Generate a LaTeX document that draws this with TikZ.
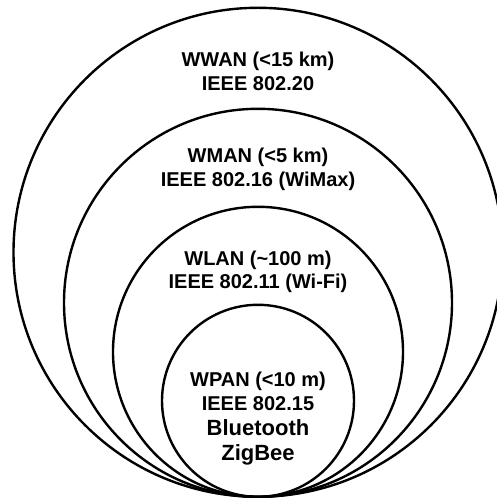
\documentclass[tikz,border=0pt]{standalone}
\usepackage{fontspec}
\setmainfont{Liberation Sans}
\usetikzlibrary{positioning}
\tikzset{
    x=1pt, y=1pt,
    zone/.style={
        circle,
        draw,
        line width=2.4pt,
        inner sep=0pt,
        outer sep=0pt,
        anchor=south
    },
    zone label/.style={
        align=center,
        inner sep=0pt,
        font=\fontsize{20}{23.5}\selectfont\bfseries
    },
    tech label/.style={
        align=center,
        inner sep=0pt,
        font=\fontsize{22}{25.5}\selectfont\bfseries
    }
}

\begin{document}
\begin{tikzpicture}
                \useasboundingbox (0,0) rectangle (496,498);
                \coordinate (touch) at (258,1.2);

                % nested ranges, all touching at the bottom
                \node[zone, minimum size=489pt] (wwan) at (touch) {};
                \node[zone, minimum size=388pt] (wman) at (touch) {};
                \node[zone, minimum size=290pt] (wlan) at (touch) {};
                \node[zone, minimum size=192pt] (wpan) at (touch) {};

                \node[zone label, yshift=-63.5pt] (wwantxt) at (wwan.north) {WWAN (<15 km)\\IEEE 802.20};
                \node[zone label, yshift=-60.5pt] (wmantxt) at (wman.north) {WMAN (<5 km)\\IEEE 802.16 (WiMax)};
                \node[zone label, yshift=-65pt] (wlantxt) at (wlan.north) {WLAN (\textasciitilde100 m)\\IEEE 802.11 (Wi-Fi)};
                \node[zone label, yshift=-86.5pt] (wpantxt) at (wpan.north) {WPAN (<10 m)\\IEEE 802.15};
                \node[tech label, yshift=-137.5pt] (wpantech) at (wpan.north) {Bluetooth\\ZigBee};
            \end{tikzpicture}
\end{document}
